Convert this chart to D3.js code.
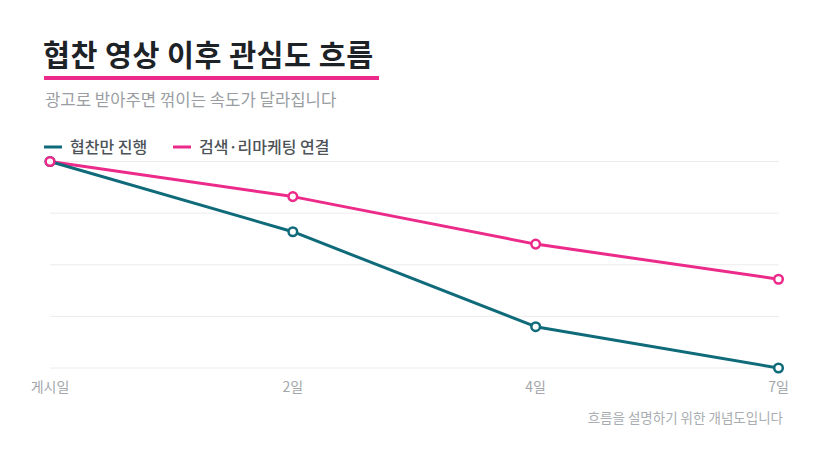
<!DOCTYPE html>
<html>
<head>
<meta charset="utf-8">
<script src="https://cdn.jsdelivr.net/npm/d3@7"></script>
<style>
  html, body { margin: 0; padding: 0; background: #fff; }
  svg { display: block; font-family: "Noto Sans CJK KR", "Noto Sans", sans-serif; }
</style>
</head>
<body>
<div id="chart"></div>
<script>
const width = 828, height = 469;

// data
const days = ["게시일", "2일", "4일", "7일"];
const sponsorOnly = [100, 66, 20, 0];
const withRetarget = [100, 83, 60, 43];
const seriesNames = ["협찬만 진행", "검색·리마케팅 연결"];
const gridValues = [0, 25, 50, 75, 100];

const teal = "#0f6b7a";
const pink = "#ec2a8a";

const svg = d3.select("#chart")
    .append("svg")
    .attr("width", width)
    .attr("height", height);

// title + underline
svg.append("text")
    .attr("x", 43)
    .attr("y", 66)
    .attr("font-size", 29.3)
    .attr("font-weight", 700)
    .attr("letter-spacing", 0.5)
    .attr("fill", "#1d2227")
    .text("협찬 영상 이후 관심도 흐름");

svg.append("rect")
    .attr("x", 44)
    .attr("y", 76)
    .attr("width", 335)
    .attr("height", 4)
    .attr("fill", pink);

svg.append("text")
    .attr("x", 45)
    .attr("y", 106)
    .attr("font-size", 16.7)
    .attr("fill", "#9a9ea3")
    .text("광고로 받아주면 꺾이는 속도가 달라집니다");

// legend
const legend = svg.append("g").attr("transform", "translate(44,147)");
const legendX = [0, 129];
[teal, pink].forEach((c, i) => {
    legend.append("line")
        .attr("x1", legendX[i]).attr("x2", legendX[i] + 18)
        .attr("y1", 0).attr("y2", 0)
        .attr("stroke", c)
        .attr("stroke-width", 3);
    legend.append("text")
        .attr("x", legendX[i] + 26)
        .attr("y", 5.5)
        .attr("font-size", 16)
        .attr("font-weight", 500)
        .attr("fill", "#4d5358")
        .text(seriesNames[i]);
});

// scales
const x = d3.scalePoint()
    .domain(days)
    .range([50, 778.5]);

const y = d3.scaleLinear()
    .domain([0, 100])
    .range([368, 161.5]);

// grid
svg.append("g")
    .selectAll("line")
    .data(gridValues)
    .enter().append("line")
    .attr("x1", 50)
    .attr("x2", 779)
    .attr("y1", d => y(d))
    .attr("y2", d => y(d))
    .attr("stroke", "#ececec")
    .attr("stroke-width", 1);

// x axis labels
svg.append("g")
    .selectAll("text")
    .data(days)
    .enter().append("text")
    .attr("x", d => x(d))
    .attr("y", 392)
    .attr("text-anchor", "middle")
    .attr("font-size", 14)
    .attr("fill", "#a3a7ab")
    .text(d => d);

// lines, pink first then teal on top
const line = d3.line()
    .x((d, i) => x(days[i]))
    .y(d => y(d));

const series = [
    { values: withRetarget, color: pink },
    { values: sponsorOnly, color: teal }
];

series.forEach(s => {
    svg.append("path")
        .datum(s.values)
        .attr("d", line)
        .attr("fill", "none")
        .attr("stroke", s.color)
        .attr("stroke-width", 3)
        .attr("stroke-linejoin", "round");
});

// teal markers, then pink markers on top
[series[1], series[0]].forEach(s => {
    svg.append("g")
        .selectAll("circle")
        .data(s.values)
        .enter().append("circle")
        .attr("cx", (d, i) => x(days[i]))
        .attr("cy", d => y(d))
        .attr("r", 4.3)
        .attr("fill", "#fff")
        .attr("stroke", s.color)
        .attr("stroke-width", 2.5);
});

// note
svg.append("text")
    .attr("x", 783)
    .attr("y", 423)
    .attr("text-anchor", "end")
    .attr("font-size", 13.5)
    .attr("fill", "#a9adb1")
    .text("흐름을 설명하기 위한 개념도입니다");
</script>
</body>
</html>
